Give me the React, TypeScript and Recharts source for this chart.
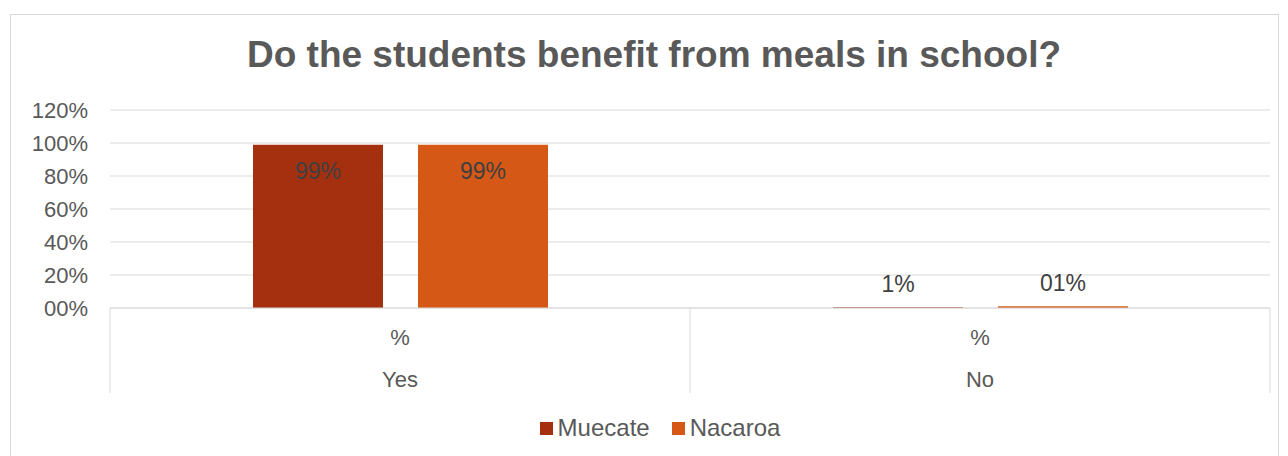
import { BarChart, Bar, XAxis, YAxis, CartesianGrid, Legend, LabelList } from 'recharts';

const categories = ['Yes', 'No'];
const subLabels = ['%', '%'];
const muecate = [99, 0.5];
const nacaroa = [99, 1];
const muecateLabels = ['99%', '1%'];
const nacaroaLabels = ['99%', '01%'];
const yTicks = [0, 20, 40, 60, 80, 100, 120];

const COLORS = { Muecate: '#A5300F', Nacaroa: '#D55816' };
const TEXT = '#595959';
const GRID = '#d9d9d9';
const FONT = '"Liberation Sans", Arial, sans-serif';

const data = categories.map((c, i) => ({
  name: c,
  sub: subLabels[i],
  Muecate: muecate[i],
  Nacaroa: nacaroa[i],
  mLabel: muecateLabels[i],
  nLabel: nacaroaLabels[i],
}));

const MultiTick = (props: any) => {
  const { x, y, payload, index } = props;
  const half = payload.offset ?? 0;
  const bottom = y + 85;
  return (
    <g>
      <line x1={x - half} y1={y} x2={x - half} y2={bottom} stroke={GRID} />
      {index === data.length - 1 && <line x1={x + half} y1={y} x2={x + half} y2={bottom} stroke={GRID} />}
      <text x={x} y={y + 37} textAnchor="middle" fill={TEXT} fontSize={22} fontFamily={FONT}>
        {data[index]?.sub}
      </text>
      <text x={x} y={y + 79} textAnchor="middle" fill={TEXT} fontSize={22} fontFamily={FONT}>
        {payload.value}
      </text>
    </g>
  );
};

const makeLabel = (key: 'mLabel' | 'nLabel') => (props: any) => {
  const { x, y, width, height, index } = props;
  const text = data[index][key];
  const inside = height > 30;
  return (
    <text
      x={x + width / 2}
      y={inside ? y + 34 : y - 15}
      textAnchor="middle"
      fill="#404040"
      fontSize={23}
      fontFamily={FONT}
    >
      {text}
    </text>
  );
};

const LegendContent = ({ payload }: any) => (
  <div style={{ display: 'flex', justifyContent: 'center', gap: 22, fontFamily: FONT, fontSize: 24, color: TEXT }}>
    {(payload || []).map((p: any) => (
      <div key={p.value} style={{ display: 'flex', alignItems: 'center' }}>
        <span style={{ width: 13, height: 13, background: p.color, display: 'inline-block', marginRight: 5 }} />
        <span>{p.value}</span>
      </div>
    ))}
  </div>
);

export default function App() {
  return (
    <div style={{ position: 'absolute', left: 0, top: 0, width: 1288, height: 456, overflow: 'hidden', background: '#fff' }}>
      <div style={{ position: 'absolute', left: 10, top: 14, width: 1267, height: 460, border: `1px solid ${GRID}` }} />
      <div
        style={{
          position: 'absolute',
          top: 35,
          left: 0,
          width: 1308,
          textAlign: 'center',
          fontFamily: FONT,
          fontWeight: 'bold',
          fontSize: 37,
          lineHeight: '40px',
          color: TEXT,
        }}
      >
        Do the students benefit from meals in school?
      </div>
      <div style={{ position: 'absolute', left: 0, top: 0 }}>
        <BarChart
          width={1288}
          height={456}
          data={data}
          margin={{ top: 110, right: 18, bottom: 35, left: 0 }}
          barSize={130}
          barGap={35}
        >
          <CartesianGrid vertical={false} stroke={GRID} />
          <XAxis
            dataKey="name"
            height={85}
            tickLine={false}
            tickSize={0}
            tickMargin={0}
            axisLine={{ stroke: GRID }}
            tick={<MultiTick />}
            interval={0}
          />
          <YAxis
            width={110}
            domain={[0, 120]}
            ticks={yTicks}
            axisLine={false}
            tickLine={false}
            tickSize={0}
            tickMargin={22}
            tickFormatter={(v: number) => (v === 0 ? '00%' : `${v}%`)}
            tick={{ fill: TEXT, fontSize: 22, fontFamily: FONT }}
          />
          <Legend content={<LegendContent />} wrapperStyle={{ top: 414, left: 16, width: 1288 }} />
          <Bar dataKey="Muecate" fill={COLORS.Muecate} isAnimationActive={false}>
            <LabelList dataKey="Muecate" content={makeLabel('mLabel')} />
          </Bar>
          <Bar dataKey="Nacaroa" fill={COLORS.Nacaroa} isAnimationActive={false}>
            <LabelList dataKey="Nacaroa" content={makeLabel('nLabel')} />
          </Bar>
        </BarChart>
      </div>
    </div>
  );
}
